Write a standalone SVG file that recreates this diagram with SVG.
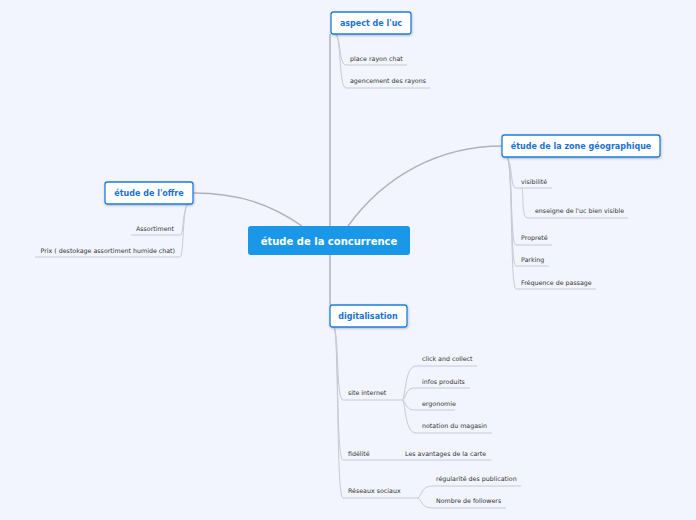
<svg xmlns="http://www.w3.org/2000/svg" width="696" height="520" viewBox="0 0 696 520">
<defs>
<filter id="sh" x="-10%" y="-20%" width="120%" height="150%"><feDropShadow dx="0.5" dy="1" stdDeviation="0.8" flood-color="#000" flood-opacity="0.25"/></filter>
</defs>
<style>
.bg{fill:#f2f5fd}
.main{fill:none;stroke:#aeb2ba;stroke-width:1.5}
.sub{fill:none;stroke:#c6cad2;stroke-width:1}
.box{fill:#fff;stroke:#1e7fdc;stroke-width:1.3}
.t1{font-family:"DejaVu Sans",Verdana,sans-serif;font-weight:bold;font-size:8px;fill:#1a73d2;text-anchor:middle}
.t0{font-family:"DejaVu Sans",Verdana,sans-serif;font-weight:bold;font-size:10px;fill:#fff;text-anchor:middle}
.t2{font-family:"DejaVu Sans",Verdana,sans-serif;font-size:6.3px;fill:#333}
</style>
<rect class="bg" width="696" height="520"/>
<g id="connectors">
<path class="main" d="M330,226 V34"/>
<path class="main" d="M330,255 V305"/>
<path class="main" d="M193,193 C240,193 272,205 302,226"/>
<path class="main" d="M348,226 C385,175 440,146 502,146"/>
<path class="sub" d="M336,34 C341,40 339,65 346,65 H407"/>
<path class="sub" d="M336,34 C341,40 339,88 346,88 H430"/>
<path class="sub" d="M507,157 C513,165 510,188 516,188 H552"/>
<path class="sub" d="M522,188 C524,195 521,218 528,218 H628"/>
<path class="sub" d="M507,157 C513,165 510,245 516,245 H552"/>
<path class="sub" d="M507,157 C513,165 510,266 516,266 H549"/>
<path class="sub" d="M507,157 C513,165 510,289 516,289 H596"/>
<path class="sub" d="M188,204 C182,210 184,235 180,235 H131"/>
<path class="sub" d="M188,204 C182,210 184,257 180,257 H35"/>
<path class="sub" d="M334,327 C339,335 336,400 343,400 H402"/>
<path class="sub" d="M334,327 C339,335 336,460 343,460 H491"/>
<path class="sub" d="M334,327 C339,335 336,498 343,498 H417"/>
<path class="sub" d="M402,400 C406,400 404,366 416,366 H477"/>
<path class="sub" d="M402,400 C406,400 405,388 414,388 H470"/>
<path class="sub" d="M402,400 C406,400 405,410 414,410 H455"/>
<path class="sub" d="M402,400 C406,400 404,433 416,433 H492"/>
<path class="sub" d="M417,498 C422,498 420,486 432,486 H521"/>
<path class="sub" d="M417,498 C422,498 420,508 432,508 H506"/>
</g>
<g id="center">
<rect x="248" y="226" width="162" height="29" rx="3" fill="#1b97e8"/>
<text class="t0" x="329" y="244.5">étude de la concurrence</text>
</g>
<g id="aspect">
<rect class="box" x="331" y="12" width="80" height="22" rx="2.5" filter="url(#sh)"/>
<text class="t1" x="371" y="26">aspect de l'uc</text>
</g>
<g id="aspect-items">
<text class="t2" x="350" y="61">place rayon chat</text>
<text class="t2" x="350" y="83">agencement des rayons</text>
</g>
<g id="zone">
<rect class="box" x="502" y="135" width="158" height="22" rx="2.5" filter="url(#sh)"/>
<text class="t1" x="581" y="149">étude de la zone géographique</text>
</g>
<g id="zone-items">
<text class="t2" x="521" y="184">visibilité</text>
<text class="t2" x="535" y="213">enseigne de l'uc bien visible</text>
<text class="t2" x="521" y="240">Propreté</text>
<text class="t2" x="521" y="262">Parking</text>
<text class="t2" x="521" y="285">Fréquence de passage</text>
</g>
<g id="offre">
<rect class="box" x="105" y="182" width="88" height="22" rx="2.5" filter="url(#sh)"/>
<text class="t1" x="149" y="196">étude de l'offre</text>
</g>
<g id="offre-items">
<text class="t2" x="174" y="231" text-anchor="end">Assortiment</text>
<text class="t2" x="175" y="253" text-anchor="end">Prix ( destokage assortiment humide chat)</text>
</g>
<g id="digitalisation">
<rect class="box" x="330" y="305" width="77" height="22" rx="2.5" filter="url(#sh)"/>
<text class="t1" x="368" y="319">digitalisation</text>
</g>
<g id="digital-items">
<text class="t2" x="348" y="395">site internet</text>
<text class="t2" x="422" y="361">click and collect</text>
<text class="t2" x="422" y="384">infos produits</text>
<text class="t2" x="422" y="406">ergonomie</text>
<text class="t2" x="422" y="428">notation du magasin</text>
<text class="t2" x="348" y="456">fidélité</text>
<text class="t2" x="405" y="456">Les avantages de la carte</text>
<text class="t2" x="348" y="493">Réseaux sociaux</text>
<text class="t2" x="436" y="481">régularité des publication</text>
<text class="t2" x="436" y="503">Nombre de followers</text>
</g>
</svg>
